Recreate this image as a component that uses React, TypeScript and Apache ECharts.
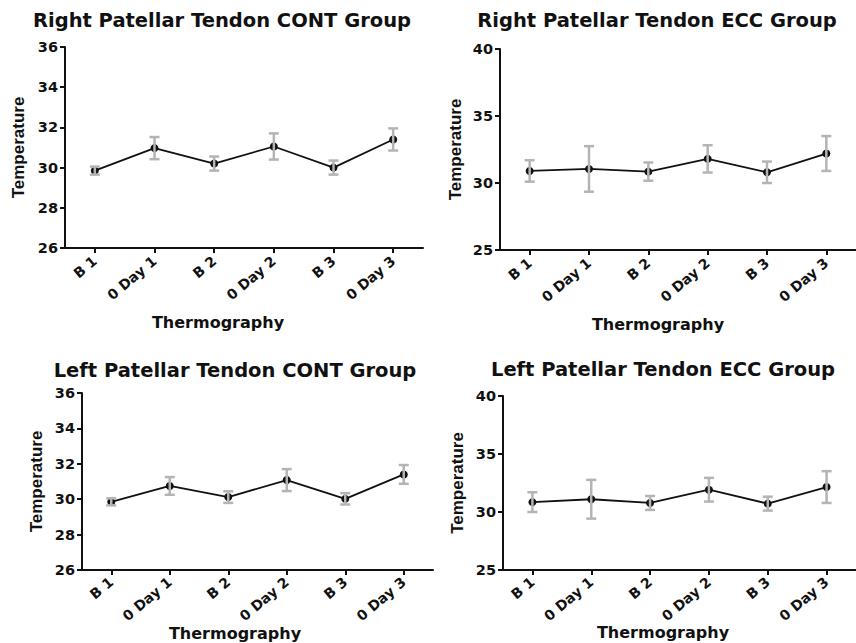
import React, { useEffect, useRef } from "react";
import * as echarts from "echarts";

const categories = ["B 1", "0 Day 1", "B 2", "0 Day 2", "B 3", "0 Day 3"];

const rightContMean = [29.85, 30.97, 30.2, 31.05, 30.0, 31.4];
const rightContErr = [0.2, 0.55, 0.35, 0.65, 0.35, 0.55];
const rightEccMean = [30.9, 31.05, 30.85, 31.8, 30.8, 32.2];
const rightEccErr = [0.8, 1.7, 0.68, 1.02, 0.8, 1.3];
const leftContMean = [29.85, 30.75, 30.12, 31.08, 30.02, 31.4];
const leftContErr = [0.2, 0.5, 0.33, 0.62, 0.32, 0.53];
const leftEccMean = [30.85, 31.1, 30.78, 31.92, 30.72, 32.15];
const leftEccErr = [0.85, 1.67, 0.6, 1.02, 0.6, 1.37];

const contTicks = { min: 26, max: 36, interval: 2 };
const eccTicks = { min: 25, max: 40, interval: 5 };

const titles = [
  "Right Patellar Tendon CONT Group",
  "Right Patellar Tendon ECC Group",
  "Left Patellar Tendon CONT Group",
  "Left Patellar Tendon ECC Group",
];
const xName = "Thermography";
const yName = "Temperature";

const FONT = '"DejaVu Sans", "Liberation Sans", Arial, sans-serif';

const panels = [
  { mean: rightContMean, err: rightContErr, ticks: contTicks, grid: { left: 65, top: 47, width: 358, height: 201 }, title: [222, 20], xname: [218, 322], yGap: 38, xLabelMargin: 11 },
  { mean: rightEccMean, err: rightEccErr, ticks: eccTicks, grid: { left: 500, top: 49, width: 356, height: 201 }, title: [657, 20], xname: [658, 324], yGap: 36, xLabelMargin: 11 },
  { mean: leftContMean, err: leftContErr, ticks: contTicks, grid: { left: 82, top: 393, width: 351, height: 177 }, title: [235, 370], xname: [235, 633], yGap: 37, xLabelMargin: 10 },
  { mean: leftEccMean, err: leftEccErr, ticks: eccTicks, grid: { left: 503, top: 396, width: 364, height: 174 }, title: [663, 369], xname: [663, 632], yGap: 37, xLabelMargin: 10 },
];

export default function App() {
  const ref = useRef<HTMLDivElement>(null);
  useEffect(() => {
    if (!ref.current) return;
    const chart = echarts.init(ref.current, null, { renderer: "svg" });
    const axisLine = { show: true, lineStyle: { color: "#111", width: 2 } };
    const option: any = {
      animation: false,
      backgroundColor: "#fff",
      grid: panels.map((p) => ({ ...p.grid, containLabel: false })),
      xAxis: panels.map((p, i) => ({
        type: "category",
        gridIndex: i,
        data: categories,
        boundaryGap: true,
        axisLine,
        axisTick: { show: true, alignWithLabel: true, length: 5, lineStyle: { color: "#111", width: 2 } },
        axisLabel: {
          rotate: 40,
          margin: p.xLabelMargin,
          color: "#111",
          fontFamily: FONT,
          fontWeight: "bold",
          fontSize: 14,
          interval: 0,
        },
        splitLine: { show: false },
      })),
      yAxis: panels.map((p, i) => ({
        type: "value",
        gridIndex: i,
        min: p.ticks.min,
        max: p.ticks.max,
        interval: p.ticks.interval,
        axisLine,
        axisTick: { show: true, length: 5, lineStyle: { color: "#111", width: 2 } },
        axisLabel: { color: "#111", fontFamily: FONT, fontWeight: "bold", fontSize: 14.5, margin: 7 },
        splitLine: { show: false },
        name: yName,
        nameLocation: "middle",
        nameRotate: 90,
        nameGap: p.yGap,
        nameTextStyle: { color: "#111", fontFamily: '"Liberation Sans", Arial, sans-serif', fontWeight: "bold", fontSize: 17 },
      })),
      series: panels.flatMap((p, i) => [
        {
          type: "line",
          xAxisIndex: i,
          yAxisIndex: i,
          data: p.mean,
          symbol: "circle",
          symbolSize: 8,
          itemStyle: { color: "#111" },
          lineStyle: { color: "#111", width: 1.8 },
          z: 2,
        },
        {
          type: "custom",
          xAxisIndex: i,
          yAxisIndex: i,
          z: 3,
          encode: { x: 0, y: [1, 2] },
          data: p.mean.map((m, k) => [k, m - p.err[k], m + p.err[k]]),
          renderItem: (params: any, api: any) => {
            const x = api.value(0);
            const hi = api.coord([x, api.value(2)]);
            const lo = api.coord([x, api.value(1)]);
            const cap = 5;
            const style = { stroke: "#b4b4b4", lineWidth: 2.5 };
            return {
              type: "group",
              children: [
                { type: "line", shape: { x1: hi[0], y1: hi[1], x2: lo[0], y2: lo[1] }, style },
                { type: "line", shape: { x1: hi[0] - cap, y1: hi[1], x2: hi[0] + cap, y2: hi[1] }, style },
                { type: "line", shape: { x1: lo[0] - cap, y1: lo[1], x2: lo[0] + cap, y2: lo[1] }, style },
              ],
            };
          },
        },
      ]),
      graphic: panels.flatMap((p, i) => [
        {
          type: "text",
          x: p.title[0],
          y: p.title[1],
          style: {
            text: titles[i],
            fill: "#111",
            fontFamily: FONT,
            fontWeight: "bold",
            fontSize: 19.5,
            align: "center",
            verticalAlign: "middle",
          },
        },
        {
          type: "text",
          x: p.xname[0],
          y: p.xname[1],
          style: {
            text: xName,
            fill: "#111",
            fontFamily: FONT,
            fontWeight: "bold",
            fontSize: 16,
            align: "center",
            verticalAlign: "middle",
          },
        },
      ]),
    };
    chart.setOption(option);
    return () => chart.dispose();
  }, []);
  return (
    <div
      ref={ref}
      style={{ position: "absolute", left: 0, top: 0, width: 856, height: 643, background: "#fff" }}
    />
  );
}
